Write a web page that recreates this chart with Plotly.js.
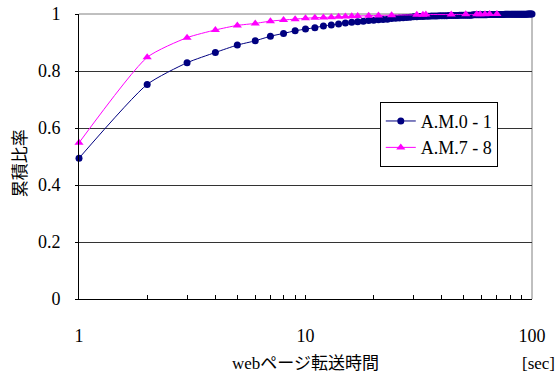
<!DOCTYPE html>
<html>
<head>
<meta charset="utf-8">
<script src="https://cdn.plot.ly/plotly-3.0.1.min.js"></script>
<style>html,body{margin:0;padding:0;background:#fff;}#chart{width:558px;height:374px;}</style>
</head>
<body>
<div id="chart"></div>
<script>
// Series A.M.0 - 1 (every second from 1 to 100)
const xBlue = [1,2,3,4,5,6,7,8,9,10,11,12,13,14,15,16,17,18,19,20,
  21,22,23,24,25,26,27,28,29,30,31,32,33,34,35,36,37,38,39,40,
  41,42,43,44,45,46,47,48,49,50,51,52,53,54,55,56,57,58,59,60,
  61,62,63,64,65,66,67,68,69,70,71,72,73,74,75,76,77,78,79,80,
  81,82,83,84,85,86,87,88,89,90,91,92,93,94,95,96,97,98,99,100];
const yBlue = [0.494,0.753,0.829,0.865,0.891,0.906,0.922,0.932,0.941,0.947,
  0.952,0.958,0.961,0.965,0.968,0.971,0.973,0.975,0.977,0.978,
  0.980,0.981,0.982,0.984,0.985,0.986,0.987,0.988,0.989,0.990,
  0.990,0.991,0.991,0.992,0.992,0.993,0.993,0.993,0.994,0.994,
  0.994,0.994,0.995,0.995,0.995,0.995,0.995,0.996,0.996,0.996,
  0.996,0.996,0.996,0.996,0.997,0.997,0.997,0.997,0.997,0.997,
  0.997,0.997,0.997,0.998,0.998,0.998,0.998,0.998,0.998,0.998,
  0.998,0.998,0.998,0.998,0.998,0.999,0.999,0.999,0.999,0.999,
  0.999,0.999,0.999,0.999,0.999,0.999,0.999,0.999,0.999,0.999,
  0.999,0.999,0.999,0.999,0.999,1.000,1.000,1.000,1.000,1.000];
// Series A.M.7 - 8
const xPink = [1,2,3,4,5,6,7,8,9,10,11,12,13,14,15,16,17,19,21,24,31,33,34,44,51,57,59,62,65,70];
const yPink = [0.548,0.848,0.917,0.944,0.960,0.967,0.975,0.979,0.982,0.985,
  0.987,0.988,0.989,0.990,0.991,0.992,0.993,0.994,0.995,0.996,
  0.997,0.997,0.998,0.998,0.999,0.999,0.999,0.999,1.000,1.000];
const seriesNames = ['A.M.0 - 1', 'A.M.7 - 8'];
const xTickVals = [1,2,3,4,5,6,7,8,9,10,20,30,40,50,60,70,80,90,100];
const xTickText = ['1','','','','','','','','','10','','','','','','','','','100'];
const yTickVals = [0,0.2,0.4,0.6,0.8,1];
const yTickText = ['0','0.2','0.4','0.6','0.8','1'];

const serif = '"Liberation Serif", "Times New Roman", "Noto Sans CJK JP", serif';
const jp = '"Liberation Serif", "Noto Sans CJK JP", sans-serif';

const traces = [
  {x: xBlue, y: yBlue, name: seriesNames[0], type: 'scatter', mode: 'lines+markers',
   line: {color: '#000080', width: 1, shape: 'spline', smoothing: 0.6},
   marker: {symbol: 'circle', size: 7, color: '#000080'}, cliponaxis: false},
  {x: xPink, y: yPink, name: seriesNames[1], type: 'scatter', mode: 'lines+markers',
   line: {color: '#FF00FF', width: 1, shape: 'spline', smoothing: 0.6},
   marker: {symbol: 'triangle-up', size: 8, color: '#FF00FF'}, cliponaxis: false}
];

const layout = {
  width: 558, height: 374,
  margin: {l: 79, r: 26, t: 14, b: 75},
  paper_bgcolor: '#ffffff', plot_bgcolor: '#ffffff',
  font: {family: serif, size: 18, color: '#000'},
  showlegend: true,
  legend: {x: 0.664, y: 0.692, xanchor: 'left', yanchor: 'top',
    bgcolor: '#ffffff', bordercolor: '#000', borderwidth: 1, itemwidth: 30,
    font: {family: serif, size: 18, color: '#000'}, tracegroupgap: 0},
  xaxis: {type: 'log', range: [0, 2], tickmode: 'array', tickvals: xTickVals, ticktext: xTickText,
    ticks: 'inside', ticklen: 4, tickcolor: '#000', showline: true, linecolor: '#000', linewidth: 1,
    showgrid: false, zeroline: false, ticklabelstandoff: 20,
    tickfont: {family: serif, size: 18, color: '#000'}},
  yaxis: {range: [0, 1], tickmode: 'array', tickvals: yTickVals, ticktext: yTickText,
    ticks: 'outside', ticklen: 3, tickcolor: '#000', showline: true, linecolor: '#000', linewidth: 1,
    showgrid: true, gridcolor: '#333', gridwidth: 1, zeroline: false, ticklabelstandoff: 11,
    tickfont: {family: serif, size: 18, color: '#000'}},
  shapes: [
    {type: 'line', xref: 'paper', yref: 'paper', x0: 0, x1: 1, y0: 1, y1: 1, line: {color: '#808080', width: 1}, layer: 'below'},
    {type: 'line', xref: 'paper', yref: 'paper', x0: 1, x1: 1, y0: 0, y1: 1, line: {color: '#808080', width: 1}, layer: 'below'}
  ],
  annotations: [
    {text: 'webページ転送時間', xref: 'paper', yref: 'paper', x: 0.5, y: -0.228, xanchor: 'center', yanchor: 'middle',
     showarrow: false, font: {family: jp, size: 17, color: '#000'}},
    {text: '[sec]', xref: 'paper', yref: 'paper', x: 1.055, y: -0.228, xanchor: 'right', yanchor: 'middle',
     showarrow: false, font: {family: serif, size: 17, color: '#000'}},
    {text: '累積比率', xref: 'paper', yref: 'paper', x: -0.130, y: 0.477, xanchor: 'center', yanchor: 'middle',
     textangle: -90, showarrow: false, font: {family: jp, size: 17, color: '#000'}}
  ]
};

Plotly.newPlot('chart', traces, layout, {displayModeBar: false, staticPlot: true});
</script>
</body>
</html>
